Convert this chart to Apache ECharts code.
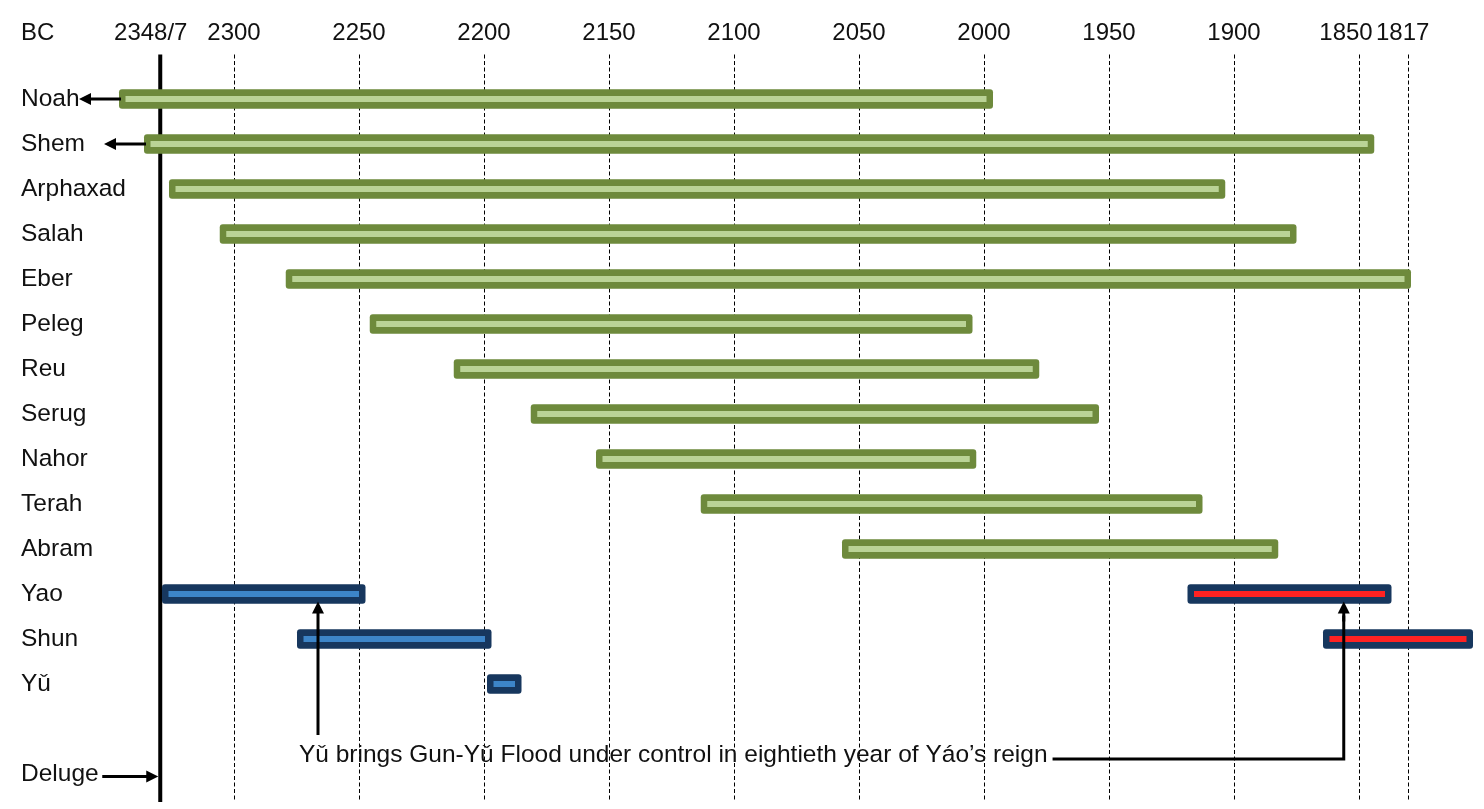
<!DOCTYPE html>
<html>
<head>
<meta charset="utf-8">
<script src="https://cdn.jsdelivr.net/npm/echarts@6/dist/echarts.min.js"></script>
<style>
  html, body { margin: 0; padding: 0; background: #ffffff; }
  #chart { width: 1484px; height: 809px; }
</style>
</head>
<body>
<div id="chart"></div>
<script>
// ---------------- DATA ----------------
// Rows, top to bottom (one empty spacer row before "Deluge")
const rowNames = ['Noah', 'Shem', 'Arphaxad', 'Salah', 'Eber', 'Peleg', 'Reu', 'Serug', 'Nahor', 'Terah', 'Abram', 'Yao', 'Shun', 'Yǔ', '', 'Deluge'];

// Post-diluvian patriarchs: lifespans in years BC, as drawn on the chart
const patriarchs = ['Noah', 'Shem', 'Arphaxad', 'Salah', 'Eber', 'Peleg', 'Reu', 'Serug', 'Nahor', 'Terah', 'Abram'];
const lifeStart = [2346, 2336, 2326, 2305.7, 2279.3, 2245.7, 2212.1, 2181.3, 2155.2, 2113.3, 2056.8];
const lifeEnd = [1996.4, 1843.9, 1903.5, 1875, 1829.2, 2004.6, 1977.9, 1954, 2003.1, 1912.6, 1882.3];

// Chinese rulers, first chronology (blue)
const rulersBlue = ['Yao', 'Shun', 'Yǔ'];
const reignStartBlue = [2328.8, 2274.8, 2198.8];
const reignEndBlue = [2247.4, 2197, 2185];

// Chinese rulers, second chronology (red)
const rulersRed = ['Yao', 'Shun'];
const reignStartRed = [1918.6, 1864.4];
const reignEndRed = [1837, 1804.4];

// Axis ticks (years BC)
const tickValues = [2300, 2250, 2200, 2150, 2100, 2050, 2000, 1950, 1900, 1850];
const tickLabels = ['2300', '2250', '2200', '2150', '2100', '2050', '2000', '1950', '1900', '1850'];
const delugeValue = 2329.5;      // drawn position of the Deluge line
const delugeLabel = '2348/7';
const eberDeathValue = 1830.3;   // drawn position of the 1817 line
const eberDeathLabel = '1817';

// Rows whose bars carry a left-pointing arrow (life began before the Deluge)
const leftArrowRows = ['Noah', 'Shem'];

// Annotation: eightieth year of Yao's reign in each chronology
const yaoEightieth = [2266.4, 1856.1];
const annotationText = 'Yǔ brings Gun-Yǔ Flood under control in eightieth year of Yáo’s reign';
const annotationCenter = 2124.3;

// ---------------- STYLE ----------------
const FONT = "'Liberation Sans', Arial, sans-serif";
const TXT = '#111111';
const FS = 24;       // top axis labels
const FS2 = 24.5;    // row labels and annotation
const palettes = [
  { outer: '#6E8A3C', inner: '#BAD396' },  // patriarchs
  { outer: '#17375E', inner: '#3D85C8' },  // first chronology
  { outer: '#17375E', inner: '#FF2222' }   // second chronology
];
// horizontal nudges (px, leftwards) of some top labels, as placed in the original
const labelNudge = { '2348/7': 9.5, '1850': 13, '1817': 5.6 };

function measure(text, size) {
  const c = document.createElement('canvas').getContext('2d');
  c.font = size + 'px ' + FONT;
  return c.measureText(text).width;
}

// --------------- BUILD ----------------
const rowIdx = n => rowNames.indexOf(n);

const barData = [];
patriarchs.forEach((n, i) => barData.push([lifeStart[i], lifeEnd[i], rowIdx(n), 0]));
rulersBlue.forEach((n, i) => barData.push([reignStartBlue[i], reignEndBlue[i], rowIdx(n), 1]));
rulersRed.forEach((n, i) => barData.push([reignStartRed[i], reignEndRed[i], rowIdx(n), 2]));

const allLabelValues = [delugeValue].concat(tickValues, [eberDeathValue]);
const allLabelTexts = [delugeLabel].concat(tickLabels, [eberDeathLabel]);

const rich = {};
const richKey = {};
allLabelTexts.forEach((t, i) => {
  const k = 'k' + i;
  richKey[t] = k;
  const nudge = labelNudge[t] || 0;
  rich[k] = { fontSize: FS, fontFamily: FONT, color: TXT, padding: [0, nudge * 2, 0, 0] };
});

const dashedValues = tickValues.concat([eberDeathValue]);

function arrowHead(tipX, tipY, dirX, dirY, len, half) {
  const bx = tipX - dirX * len, by = tipY - dirY * len;
  const px = -dirY, py = dirX;
  return {
    type: 'polygon',
    shape: { points: [[tipX, tipY], [bx + px * half, by + py * half], [bx - px * half, by - py * half]] },
    style: { fill: '#000' }
  };
}
function arrow(x1, y1, x2, y2) {
  const L = Math.hypot(x2 - x1, y2 - y1);
  const dx = (x2 - x1) / L, dy = (y2 - y1) / L;
  const HL = 12, HW = 6;
  return [
    { type: 'line', shape: { x1: x1, y1: y1, x2: x2 - dx * (HL - 1), y2: y2 - dy * (HL - 1) }, style: { stroke: '#000', lineWidth: 3 } },
    arrowHead(x2, y2, dx, dy, HL, HW)
  ];
}

const chart = echarts.init(document.getElementById('chart'), null, { renderer: 'canvas' });

chart.setOption({
  animation: false,
  backgroundColor: '#ffffff',
  grid: { left: 59, top: 76.5, width: 1425, height: 720, containLabel: false, outerBoundsMode: 'none' },
  xAxis: {
    type: 'value',
    position: 'top',
    inverse: true,
    min: 1800,
    max: 2370,
    axisLine: { show: false },
    axisTick: { show: false },
    splitLine: { show: false },
    axisLabel: {
      customValues: allLabelValues,
      margin: 43.5,
      verticalAlign: 'middle',
      fontSize: FS,
      fontFamily: FONT,
      color: TXT,
      rich: rich,
      formatter: function (v) {
        for (let i = 0; i < allLabelValues.length; i++) {
          if (Math.abs(allLabelValues[i] - v) < 0.01) {
            const t = allLabelTexts[i];
            return '{' + richKey[t] + '|' + t + '}';
          }
        }
        return '';
      }
    }
  },
  yAxis: {
    type: 'category',
    inverse: true,
    data: rowNames,
    axisLine: { show: false },
    axisTick: { show: false },
    splitLine: { show: false },
    axisLabel: { interval: 0, align: 'left', verticalAlign: 'middle', margin: 38, fontSize: FS2, fontFamily: FONT, color: TXT }
  },
  graphic: [
    { type: 'text', x: 21, y: 33, style: { text: 'BC', fontSize: FS, fontFamily: FONT, fill: TXT, align: 'left', verticalAlign: 'middle' } }
  ],
  series: [
    {
      // vertical guide lines
      type: 'custom',
      z: 1,
      silent: true,
      data: dashedValues.map(v => [v, 0, 0]).concat([[delugeValue, 0, 1]]),
      encode: { x: 0, y: 1 },
      renderItem: function (params, api) {
        const cs = params.coordSys;
        const x = api.coord([api.value(0), 0])[0];
        const solid = api.value(2) === 1;
        const y1 = cs.y - 22, y2 = cs.y + cs.height + 5.5;
        if (solid) {
          return { type: 'line', shape: { x1: x, y1: y1, x2: x, y2: y2 }, style: { stroke: '#000', lineWidth: 4 } };
        }
        const xx = Math.round(x) + 0.5;
        return { type: 'line', shape: { x1: xx, y1: y1, x2: xx, y2: y2 }, style: { stroke: '#000', lineWidth: 1, lineDash: [4, 2.5] } };
      }
    },
    {
      // lifespan / reign bars
      type: 'custom',
      z: 2,
      silent: true,
      data: barData,
      encode: { x: [0, 1], y: 2 },
      renderItem: function (params, api) {
        const s = api.coord([api.value(0), api.value(2)]);
        const e = api.coord([api.value(1), api.value(2)]);
        const pal = palettes[api.value(3)];
        const x0 = Math.min(s[0], e[0]), x1 = Math.max(s[0], e[0]);
        const cy = s[1];
        const H = 19.5, h = 6, inset = 6.5;
        return {
          type: 'group',
          children: [
            { type: 'rect', shape: { x: x0, y: cy - H / 2, width: x1 - x0, height: H, r: 3 }, style: { fill: pal.outer } },
            { type: 'rect', shape: { x: x0 + inset, y: cy - h / 2, width: x1 - x0 - 2 * inset, height: h }, style: { fill: pal.inner } }
          ]
        };
      }
    },
    {
      // arrows and annotation
      type: 'custom',
      z: 3,
      silent: true,
      data: [[annotationCenter, rowIdx('')]],
      encode: { x: 0, y: 1 },
      renderItem: function (params, api) {
        const band = api.size([0, 1])[1];
        const rowY = i => api.coord([annotationCenter, i])[1];
        const X = v => api.coord([v, 0])[0];
        const children = [];
        // left arrows from bars of patriarchs born before the Deluge
        leftArrowRows.forEach(n => {
          const i = patriarchs.indexOf(n);
          const xs = X(lifeStart[i]);
          const y = rowY(rowIdx(n));
          children.push(...arrow(xs + 2, y, xs - 40, y));
        });
        // Deluge arrow
        const dx = X(delugeValue);
        const dy = rowY(rowIdx('Deluge')) + 2.5;
        children.push(...arrow(dx - 58, dy, dx - 2, dy));
        // annotation text
        const spacer = rowIdx('');
        const yText = rowY(spacer) + band * 0.59;
        const yLine = rowY(spacer) + band * 0.667;
        const cx = X(annotationCenter);
        const tw = measure(annotationText, FS2);
        children.push({
          type: 'text', x: cx, y: yText,
          style: { text: annotationText, fontSize: FS2, fontFamily: FONT, fill: TXT, align: 'center', verticalAlign: 'middle' }
        });
        const yaoY = rowY(rowIdx('Yao')) + 7.5;
        // arrow to first chronology
        const ax1 = X(yaoEightieth[0]);
        children.push(...arrow(ax1, rowY(spacer) + 6, ax1, yaoY));
        // arrow to second chronology
        const ax2 = X(yaoEightieth[1]);
        const startX = cx + tw / 2 + 5;
        children.push({ type: 'polyline', shape: { points: [[startX, yLine], [ax2, yLine], [ax2, yaoY + 14]] }, style: { stroke: '#000', lineWidth: 3, fill: null } });
        children.push(...arrow(ax2, yaoY + 20, ax2, yaoY));
        return { type: 'group', children: children };
      }
    }
  ]
});
</script>
</body>
</html>
